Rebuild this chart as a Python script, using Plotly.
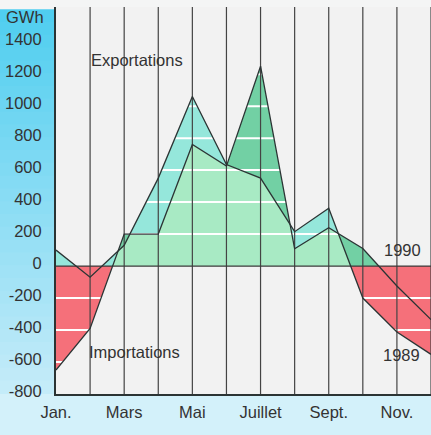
import numpy as np
import plotly.graph_objects as go

months = ["Jan.", "Févr.", "Mars", "Avr.", "Mai", "Juin", "Juillet", "Août", "Sept.", "Oct.", "Nov.", "Déc."]
solde_1989 = [100, -70, 130, 550, 1060, 635, 550, 215, 362, -200, -412, -552]
solde_1990 = [-650, -390, 200, 200, 760, 625, 1250, 108, 240, 110, -125, -335]
y_ticks = [-800, -600, -400, -200, 0, 200, 400, 600, 800, 1000, 1200, 1400]
y_labels = [str(v) for v in y_ticks]
x_ticks = [0, 2, 4, 6, 8, 10]
x_labels = ["Jan.", "Mars", "Mai", "Juillet", "Sept.", "Nov."]
stripe_levels = [-600, -400, -200, 200, 400, 600, 800, 1000, 1200]

Y_MIN, Y_MAX = -800, 1620
BG = "#f2f2f2"
C_CYAN = "#95e7db"
C_OVERLAP = "#a8eac4"
C_GREEN = "#72d0a4"
C_RED = "#f5707a"
LINE = "#2b3434"

x = np.arange(len(months), dtype=float)
a = np.array(solde_1989, dtype=float)
b = np.array(solde_1990, dtype=float)

# refine the x grid with the crossing points so the region envelopes stay exact
xs = list(x)
for f, g in [(a, b), (a, 0 * a), (b, 0 * b)]:
    d = f - g
    for i in range(len(x) - 1):
        if d[i] * d[i + 1] < 0:
            xs.append(x[i] + d[i] / (d[i] - d[i + 1]))
xs = np.array(sorted(set(xs)))
ar = np.interp(xs, x, a)
br = np.interp(xs, x, b)
zero = np.zeros_like(xs)
lo = np.maximum(0, np.minimum(ar, br))
a_pos = np.maximum(0, ar)
b_pos = np.maximum(0, br)
neg = np.minimum(0, np.minimum(ar, br))
top = np.maximum(a_pos, b_pos)

fig = go.Figure()


def band(y, fill=None, color=None):
    fig.add_trace(go.Scatter(
        x=xs, y=y, mode="lines", line=dict(width=0),
        fill=fill, fillcolor=color, showlegend=False, hoverinfo="skip",
    ))


band(zero)
band(lo, "tonexty", C_OVERLAP)
band(a_pos, "tonexty", C_CYAN)
band(lo)
band(b_pos, "tonexty", C_GREEN)
band(zero)
band(neg, "tonexty", C_RED)

# white stripes inside the filled areas
sx, sy = [], []
for lv in stripe_levels:
    sx += [x[0], x[-1], None]
    sy += [lv, lv, None]
fig.add_trace(go.Scatter(x=sx, y=sy, mode="lines", line=dict(color="white", width=2),
                         showlegend=False, hoverinfo="skip"))

# mask stripes outside of the filled areas
band(top)
band(np.full_like(xs, Y_MAX), "tonexty", BG)
band(neg)
band(np.full_like(xs, Y_MIN), "tonexty", BG)

# month rules and zero line
gx, gy = [], []
for xi in x[1:]:
    gx += [xi, xi, None]
    gy += [Y_MIN, Y_MAX, None]
fig.add_trace(go.Scatter(x=gx, y=gy, mode="lines", line=dict(color="#444444", width=1.2),
                         showlegend=False, hoverinfo="skip"))
fig.add_trace(go.Scatter(x=[x[0], x[-1]], y=[0, 0], mode="lines", line=dict(color="#3a3a3a", width=1.2),
                         showlegend=False, hoverinfo="skip"))

for vals, name in [(solde_1989, "1989"), (solde_1990, "1990")]:
    fig.add_trace(go.Scatter(x=x, y=vals, mode="lines", name=name,
                             line=dict(color=LINE, width=1.3), showlegend=False))

# left cyan gradient strip and bottom strip
W, H = 431, 435
ml, mr, mt, mb = 56, 0, 7, 41
pw, ph = W - ml - mr, H - mt - mb
shapes = [dict(type="rect", xref="paper", yref="paper", x0=-ml / pw, x1=1, y0=-mb / ph, y1=0,
               fillcolor="#d3f1fa", line=dict(width=0), layer="below")]
c_top = np.array([80, 206, 240])
c_bot = np.array([196, 236, 249])
n = 30
y_start = 1 - 3 / ph
for i in range(n):
    t = i / (n - 1)
    col = c_top + (c_bot - c_top) * t
    shapes.append(dict(type="rect", xref="paper", yref="paper", x0=-ml / pw, x1=0,
                       y0=y_start - (i + 1) * y_start / n, y1=y_start - i * y_start / n + 0.002,
                       fillcolor="rgb(%d,%d,%d)" % tuple(col.astype(int)), line=dict(width=0),
                       layer="below"))

font = dict(family="Liberation Sans, Arial, sans-serif", size=16.5, color="#333333")
annotations = [
    dict(text="GWh", xref="paper", yref="paper", x=-10 / pw, y=1 - 10 / ph, xanchor="right",
         yanchor="middle", showarrow=False, font=font),
    dict(text="Exportations", x=0.98, y=1290, xanchor="left", yanchor="middle", showarrow=False, font=font),
    dict(text="Importations", x=0.92, y=-540, xanchor="left", yanchor="middle", showarrow=False, font=font),
    dict(text="1990", x=10.15, y=102, xanchor="center", yanchor="middle", showarrow=False, font=font),
    dict(text="1989", x=10.12, y=-557, xanchor="center", yanchor="middle", showarrow=False, font=font),
]

fig.update_layout(
    width=W, height=H, autosize=False,
    margin=dict(l=ml, r=mr, t=mt, b=mb, pad=0),
    paper_bgcolor="#f4f5f5", plot_bgcolor=BG,
    shapes=shapes, annotations=annotations, font=font,
    xaxis=dict(range=[x[0], x[-1]], tickvals=x_ticks, ticktext=x_labels, showgrid=False,
               zeroline=False, showline=True, linecolor="#2b3434", linewidth=2, ticks="",
               ticklabelstandoff=2, tickfont=font, automargin=False),
    yaxis=dict(range=[Y_MIN, Y_MAX], tickvals=y_ticks, ticktext=y_labels, showgrid=False,
               zeroline=False, showline=True, linecolor="#2b3434", linewidth=2, ticks="",
               ticklabelstandoff=9, ticklabelshift=-3, tickfont=font, automargin=False),
)

fig.write_html(
    "out.html",
    config={"displayModeBar": False},
    post_script="document.body.style.margin='0';document.body.style.overflow='hidden';",
)
